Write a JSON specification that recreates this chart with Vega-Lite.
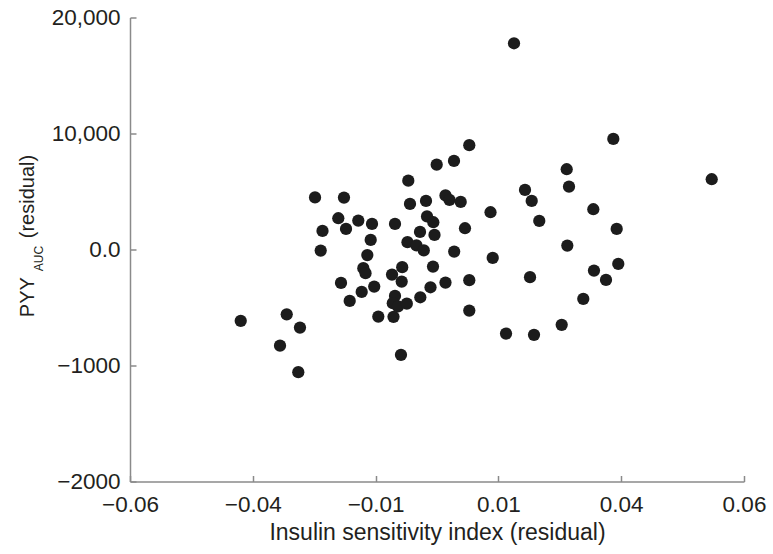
{
  "$schema": "https://vega.github.io/schema/vega-lite/v6.json",
  "width": 614,
  "height": 464,
  "autosize": {"type": "none"},
  "padding": {"left": 130, "top": 17.5, "right": 29, "bottom": 72.5},
  "background": "white",
  "config": {
    "view": {"stroke": null},
    "font": "Liberation Sans",
    "axis": {
      "labelFont": "Liberation Sans",
      "titleFont": "Liberation Sans",
      "labelFontSize": 22.5,
      "titleFontSize": 20,
      "titleFontWeight": "normal",
      "labelColor": "#231f20",
      "titleColor": "#231f20",
      "domainColor": "#8a8a8a",
      "tickColor": "#8a8a8a",
      "domainWidth": 1.5,
      "tickWidth": 1.5,
      "grid": false
    }
  },
  "data": {
    "values": [
      {"isi": -0.03836, "pyy": -6152},
      {"isi": -0.02937, "pyy": -5592},
      {"isi": -0.02678, "pyy": -6730},
      {"isi": -0.03068, "pyy": -8290},
      {"isi": -0.02711, "pyy": -10573},
      {"isi": -0.02384, "pyy": 4489},
      {"isi": -0.01818, "pyy": 4472},
      {"isi": -0.01929, "pyy": 2697},
      {"isi": -0.01538, "pyy": 2490},
      {"isi": -0.01270, "pyy": 2206},
      {"isi": -0.00821, "pyy": 2206},
      {"isi": -0.01778, "pyy": 1775},
      {"isi": -0.02238, "pyy": 1603},
      {"isi": -0.01296, "pyy": 827},
      {"isi": -0.02273, "pyy": -95},
      {"isi": -0.01362, "pyy": -483},
      {"isi": -0.01440, "pyy": -1611},
      {"isi": -0.01397, "pyy": -2042},
      {"isi": -0.01876, "pyy": -2878},
      {"isi": -0.01227, "pyy": -3197},
      {"isi": -0.01472, "pyy": -3654},
      {"isi": -0.01706, "pyy": -4429},
      {"isi": -0.01147, "pyy": -5782},
      {"isi": -0.00850, "pyy": -5808},
      {"isi": -0.00704, "pyy": -9082},
      {"isi": -0.00879, "pyy": -2163},
      {"isi": -0.00680, "pyy": -1525},
      {"isi": -0.00690, "pyy": -2766},
      {"isi": -0.00821, "pyy": -3998},
      {"isi": -0.00864, "pyy": -4627},
      {"isi": -0.00762, "pyy": -4903},
      {"isi": -0.00590, "pyy": -4670},
      {"isi": -0.00326, "pyy": -4119},
      {"isi": -0.00127, "pyy": -3257},
      {"isi": 0.00166, "pyy": -2852},
      {"isi": -0.00078, "pyy": -1474},
      {"isi": -0.00561, "pyy": 5937},
      {"isi": -0.00528, "pyy": 3929},
      {"isi": -0.00215, "pyy": 4188},
      {"isi": -0.00006, "pyy": 7316},
      {"isi": 0.00332, "pyy": 7635},
      {"isi": 0.00166, "pyy": 4662},
      {"isi": 0.00244, "pyy": 4274},
      {"isi": 0.00463, "pyy": 4102},
      {"isi": -0.00195, "pyy": 2852},
      {"isi": -0.00072, "pyy": 2352},
      {"isi": -0.00332, "pyy": 1517},
      {"isi": -0.00049, "pyy": 1258},
      {"isi": -0.00577, "pyy": 629},
      {"isi": -0.00401, "pyy": 353},
      {"isi": -0.00258, "pyy": -78},
      {"isi": 0.00336, "pyy": -181},
      {"isi": 0.00547, "pyy": 1835},
      {"isi": 0.00631, "pyy": 8996},
      {"isi": 0.01046, "pyy": 3214},
      {"isi": 0.01089, "pyy": -724},
      {"isi": 0.00631, "pyy": -2645},
      {"isi": 0.00631, "pyy": -5265},
      {"isi": 0.01505, "pyy": 17777},
      {"isi": 0.03446, "pyy": 9530},
      {"isi": 0.05369, "pyy": 6058},
      {"isi": 0.02535, "pyy": 6919},
      {"isi": 0.02580, "pyy": 5420},
      {"isi": 0.01720, "pyy": 5136},
      {"isi": 0.01851, "pyy": 4188},
      {"isi": 0.03055, "pyy": 3473},
      {"isi": 0.01999, "pyy": 2464},
      {"isi": 0.03512, "pyy": 1775},
      {"isi": 0.02547, "pyy": 336},
      {"isi": 0.01818, "pyy": -2387},
      {"isi": 0.03068, "pyy": -1818},
      {"isi": 0.03543, "pyy": -1241},
      {"isi": 0.03303, "pyy": -2620},
      {"isi": 0.02859, "pyy": -4257},
      {"isi": 0.02437, "pyy": -6497},
      {"isi": 0.01349, "pyy": -7247},
      {"isi": 0.01896, "pyy": -7359}
    ]
  },
  "layer": [
    {
      "mark": {"type": "circle", "size": 150, "color": "#1c1c1c", "opacity": 1},
      "encoding": {
        "x": {
          "field": "isi",
          "type": "quantitative",
          "scale": {"domain": [-0.06, 0.06], "nice": false, "zero": false},
          "axis": {
            "values": [-0.06, -0.036, -0.012, 0.012, 0.036, 0.06],
            "labelExpr": "format(datum.value, '.2f')",
            "tickSize": -6,
            "labelPadding": 36,
            "labelBaseline": "alphabetic",
            "labelFlush": false,
            "title": "Insulin sensitivity index (residual)",
            "titleFontSize": 23,
            "titleY": 58,
            "titleBaseline": "alphabetic"
          }
        },
        "y": {
          "field": "pyy",
          "type": "quantitative",
          "scale": {"domain": [-20000, 20000], "nice": false, "zero": false},
          "axis": {
            "orient": "left",
            "values": [-20000, -10000, 0, 10000, 20000],
            "labelExpr": "datum.value == 20000 ? '20,000' : datum.value == 10000 ? '10,000' : datum.value == 0 ? '0.0' : datum.value == -10000 ? '\u22121000' : '\u22122000'",
            "tickSize": -6,
            "labelPadding": 16,
            "labelFlush": false,
            "title": "PYY\u00a0\u00a0\u00a0\u00a0\u00a0\u00a0\u00a0(residual)",
            "titleAngle": -90,
            "titleX": -97,
            "titleY": 218,
            "titleAlign": "center",
            "titleBaseline": "alphabetic"
          }
        }
      }
    },
    {
      "mark": {"type": "circle", "size": 150, "opacity": 0},
      "encoding": {
        "x": {"field": "isi", "type": "quantitative"},
        "y": {
          "field": "pyy",
          "type": "quantitative",
          "axis": {
            "orient": "right",
            "domain": false,
            "ticks": false,
            "labels": false,
            "grid": false,
            "title": "AUC",
            "titleFontSize": 12,
            "titleAngle": -90,
            "titleX": -702,
            "titleY": 240.5,
            "titleAlign": "center",
            "titleBaseline": "alphabetic"
          }
        }
      }
    }
  ],
  "resolve": {"axis": {"y": "independent"}}
}
